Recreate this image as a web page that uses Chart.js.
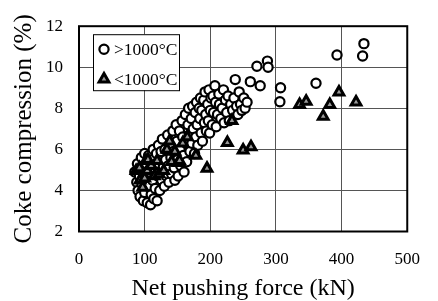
<!DOCTYPE html>
<html><head><meta charset="utf-8">
<script src="https://cdn.jsdelivr.net/npm/chart.js@4.4.0/dist/chart.umd.min.js"></script>
<style>html,body{margin:0;padding:0;background:#fff}canvas{display:block}</style>
</head>
<body><canvas id="c" width="438" height="301"></canvas>
<script>
const seriesLabels = ['>1000\u00B0C', '<1000\u00B0C'];
const xTitle = 'Net pushing force (kN)';
const yTitle = 'Coke compression (%)';
const xTicks = [0, 100, 200, 300, 400, 500];
const yTicks = [2, 4, 6, 8, 10, 12];

const hotX = [85,88,89,90,92,93,95,96,97,98,100,100,101,103,104,105,106,107,109,110,111,112,113,114,115,116,118,119,120,121,122,123,125,126,127,128,130,131,132,133,135,136,137,139,140,141,143,144,145,146,148,149,150,151,153,154,155,157,158,159,160,162,163,164,166,167,168,169,171,172,173,174,176,177,178,179,180,181,183,184,185,186,187,188,190,191,192,193,194,196,197,198,199,200,201,203,204,205,207,208,209,211,213,214,216,218,220,221,223,225,227,229,231,234,236,238,240,242,244,246,248,251,253,256,261,271,276,287,288,306,307,361,393,432,434];
const hotY = [4.9,4.4,5.3,4.0,4.7,3.7,5.6,4.3,5.0,3.5,5.8,3.9,4.6,5.3,3.4,4.2,5.7,4.9,3.3,3.8,5.5,4.5,6.0,3.6,5.1,4.1,5.8,3.5,4.7,6.2,5.3,4.0,5.9,4.5,6.5,5.1,4.2,6.0,5.5,4.7,6.7,5.2,4.4,6.2,5.6,4.8,6.9,5.9,5.1,4.5,7.2,6.4,5.5,4.7,6.9,6.0,5.2,7.4,6.6,5.7,4.9,7.7,6.3,5.4,7.2,8.0,6.7,5.9,7.5,6.3,8.1,7.0,5.8,7.8,6.6,8.3,7.2,6.2,8.0,7.5,8.5,6.8,7.9,6.4,8.4,7.3,8.8,7.7,6.9,8.2,7.4,8.9,6.8,7.9,8.5,7.2,8.6,7.8,9.1,8.3,7.1,7.7,8.7,8.2,7.5,8.0,8.9,7.3,8.4,7.8,8.6,7.4,8.2,7.9,8.5,9.4,8.1,7.7,8.8,8.2,7.9,8.5,8.0,8.3,9.3,10.05,9.1,10.3,10.0,8.32,9.0,9.22,10.6,10.55,11.15];

const coldX = [87,92,93,97,100,102,104,105,110,115,119,122,129,134,138,141,146,151,153,158,165,178,195,226,233,250,262,336,346,372,382,396,422];
const coldY = [4.96,5.1,4.5,4.15,4.6,5.45,4.96,5.5,5.2,4.7,5.45,4.8,4.96,6.0,6.4,5.4,5.9,5.35,5.45,6.3,6.6,5.7,5.07,6.33,7.4,5.96,6.12,8.18,8.34,7.61,8.18,8.79,8.3];

const FONT = "'Liberation Serif', 'Times New Roman', serif";
const pts = (xs, ys) => xs.map((x, i) => ({x: x, y: ys[i]}));

function drawMarker(ctx, style, x, y, r, bw, fill) {
  ctx.save();
  ctx.lineWidth = bw; ctx.strokeStyle = '#000'; ctx.fillStyle = fill;
  ctx.beginPath();
  if (style === 'circle') {
    ctx.arc(x, y, r, 0, Math.PI * 2);
  } else {
    let rad = 0;
    ctx.moveTo(x + Math.sin(rad) * r, y - Math.cos(rad) * r);
    rad += 2 * Math.PI / 3;
    ctx.lineTo(x + Math.sin(rad) * r, y - Math.cos(rad) * r);
    rad += 2 * Math.PI / 3;
    ctx.lineTo(x + Math.sin(rad) * r, y - Math.cos(rad) * r);
    ctx.closePath();
  }
  ctx.fill(); ctx.stroke();
  ctx.restore();
}

const frameLegend = {
  id: 'frameLegend',
  beforeDatasetsDraw(chart) {
    const {ctx, chartArea: a} = chart;
    ctx.save();
    ctx.strokeStyle = '#000'; ctx.lineWidth = 2;
    ctx.strokeRect(a.left, a.top, a.right - a.left, a.bottom - a.top);
    ctx.restore();
  },
  afterDatasetsDraw(chart) {
    const {ctx, chartArea: a} = chart;
    const bx = a.left + 14, by = a.top + 8, bw = 86, bh = 56;
    ctx.save();
    ctx.fillStyle = '#fff';
    ctx.fillRect(bx, by, bw, bh);
    ctx.strokeStyle = '#000'; ctx.lineWidth = 1;
    ctx.strokeRect(bx + 0.5, by + 0.5, bw, bh);
    const ds = chart.data.datasets;
    const rows = [by + 15, by + 45];
    ds.forEach((d, i) => {
      drawMarker(ctx, d.pointStyle, bx + 11, rows[i], d.pointRadius, d.pointBorderWidth, d.pointBackgroundColor);
      ctx.fillStyle = '#000';
      ctx.font = '17.5px ' + FONT;
      ctx.textBaseline = 'middle';
      ctx.textAlign = 'left';
      ctx.fillText(d.label, bx + 21, rows[i] + 1);
    });
    ctx.restore();
  }
};

new Chart(document.getElementById('c'), {
  type: 'scatter',
  data: {
    datasets: [
      {label: seriesLabels[0], data: pts(hotX, hotY), pointStyle: 'circle', pointRadius: 4.6,
       pointBorderColor: '#000', pointBackgroundColor: '#fff', pointBorderWidth: 2.2, order: 2},
      {label: seriesLabels[1], data: pts(coldX, coldY), pointStyle: 'triangle', pointRadius: 5.6,
       pointBorderColor: '#000', pointBackgroundColor: '#999', pointBorderWidth: 3, order: 1}
    ]
  },
  options: {
    responsive: false, animation: false, devicePixelRatio: 1,
    layout: {padding: {top: 24, right: 19, left: 0, bottom: 0}},
    plugins: {legend: {display: false}, tooltip: {enabled: false}},
    scales: {
      x: {
        type: 'linear', min: xTicks[0], max: xTicks[xTicks.length - 1],
        afterBuildTicks: s => { s.ticks = xTicks.map(v => ({value: v})); },
        ticks: {font: {family: FONT, size: 17}, color: '#000', padding: 18, maxRotation: 0},
        grid: {color: '#555', lineWidth: 1, drawTicks: false},
        border: {display: false},
        title: {display: true, text: xTitle, color: '#000', padding: 0, font: {family: FONT, size: 24, lineHeight: 1}},
        afterFit: s => { s.height = 69.5; }
      },
      y: {
        type: 'linear', min: yTicks[0], max: yTicks[yTicks.length - 1],
        afterBuildTicks: s => { s.ticks = yTicks.map(v => ({value: v})); },
        ticks: {font: {family: FONT, size: 17}, color: '#000', padding: 16},
        grid: {color: '#555', lineWidth: 1, drawTicks: false},
        border: {display: false},
        title: {display: true, text: yTitle, color: '#000', padding: {top: 12, bottom: 0}, font: {family: FONT, size: 25, lineHeight: 1}},
        afterFit: s => { s.width = 79; }
      }
    }
  },
  plugins: [frameLegend]
});
</script>
</body></html>
